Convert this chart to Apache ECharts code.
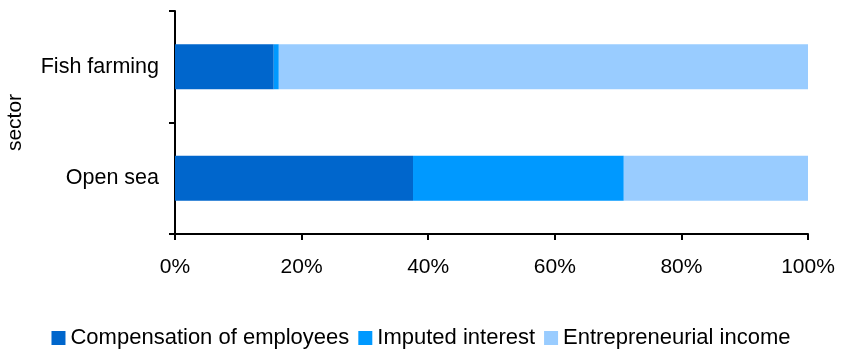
<!DOCTYPE html>
<html>
<head>
<meta charset="utf-8">
<script src="https://cdn.jsdelivr.net/npm/echarts@6/dist/echarts.min.js"></script>
<style>
  html, body { margin: 0; padding: 0; background: #fff; }
  #chart { width: 842px; height: 351px; }
</style>
</head>
<body>
<div id="chart"></div>
<script>
var sectors = ['Open sea', 'Fish farming'];
var compensation = [37.6, 15.6];
var imputedInterest = [33.3, 0.8];
var entrepreneurial = [29.1, 83.6];
var xTicks = [0, 20, 40, 60, 80, 100];

var chartDom = document.getElementById('chart');
var myChart = echarts.init(chartDom);

var font = 'Liberation Sans, Arial, Helvetica, sans-serif';

function bar(name, data, color) {
    return {
        name: name,
        type: 'bar',
        stack: 'total',
        barWidth: 45,
        itemStyle: { color: color },
        data: data
    };
}

var option = {
    animation: false,
    textStyle: { fontFamily: font },
    grid: {
        left: 175,
        right: 34,
        top: 11,
        bottom: 117,
        outerBoundsMode: 'none'
    },
    legend: {
        bottom: -3,
        left: 'center',
        itemWidth: 14,
        itemHeight: 14,
        itemGap: 9,
        icon: 'rect',
        textStyle: { fontSize: 22, color: '#000', fontFamily: font, padding: [0, 0, 0, 0] },
        data: ['Compensation of employees', 'Imputed interest', 'Entrepreneurial income']
    },
    xAxis: {
        type: 'value',
        min: xTicks[0],
        max: xTicks[xTicks.length - 1],
        interval: 20,
        splitLine: { show: false },
        axisLine: { show: true, lineStyle: { color: '#000', width: 2 } },
        axisTick: { show: true, length: 6, lineStyle: { color: '#000', width: 2 } },
        axisLabel: {
            color: '#000',
            fontSize: 21,
            margin: 23,
            formatter: function (v) { return v + '%'; }
        }
    },
    yAxis: {
        type: 'category',
        data: sectors,
        name: 'sector',
        nameLocation: 'middle',
        nameGap: 149,
        nameRotate: 90,
        nameTextStyle: { color: '#000', fontSize: 21 },
        axisLine: { show: true, lineStyle: { color: '#000', width: 2 } },
        axisTick: { show: true, length: 6, lineStyle: { color: '#000', width: 2 } },
        axisLabel: { color: '#000', fontSize: 21.5, margin: 16 }
    },
    series: [
        bar('Compensation of employees', compensation, '#0066CC'),
        bar('Imputed interest', imputedInterest, '#0099FF'),
        bar('Entrepreneurial income', entrepreneurial, '#99CCFF')
    ]
};
myChart.setOption(option);
</script>
</body>
</html>
